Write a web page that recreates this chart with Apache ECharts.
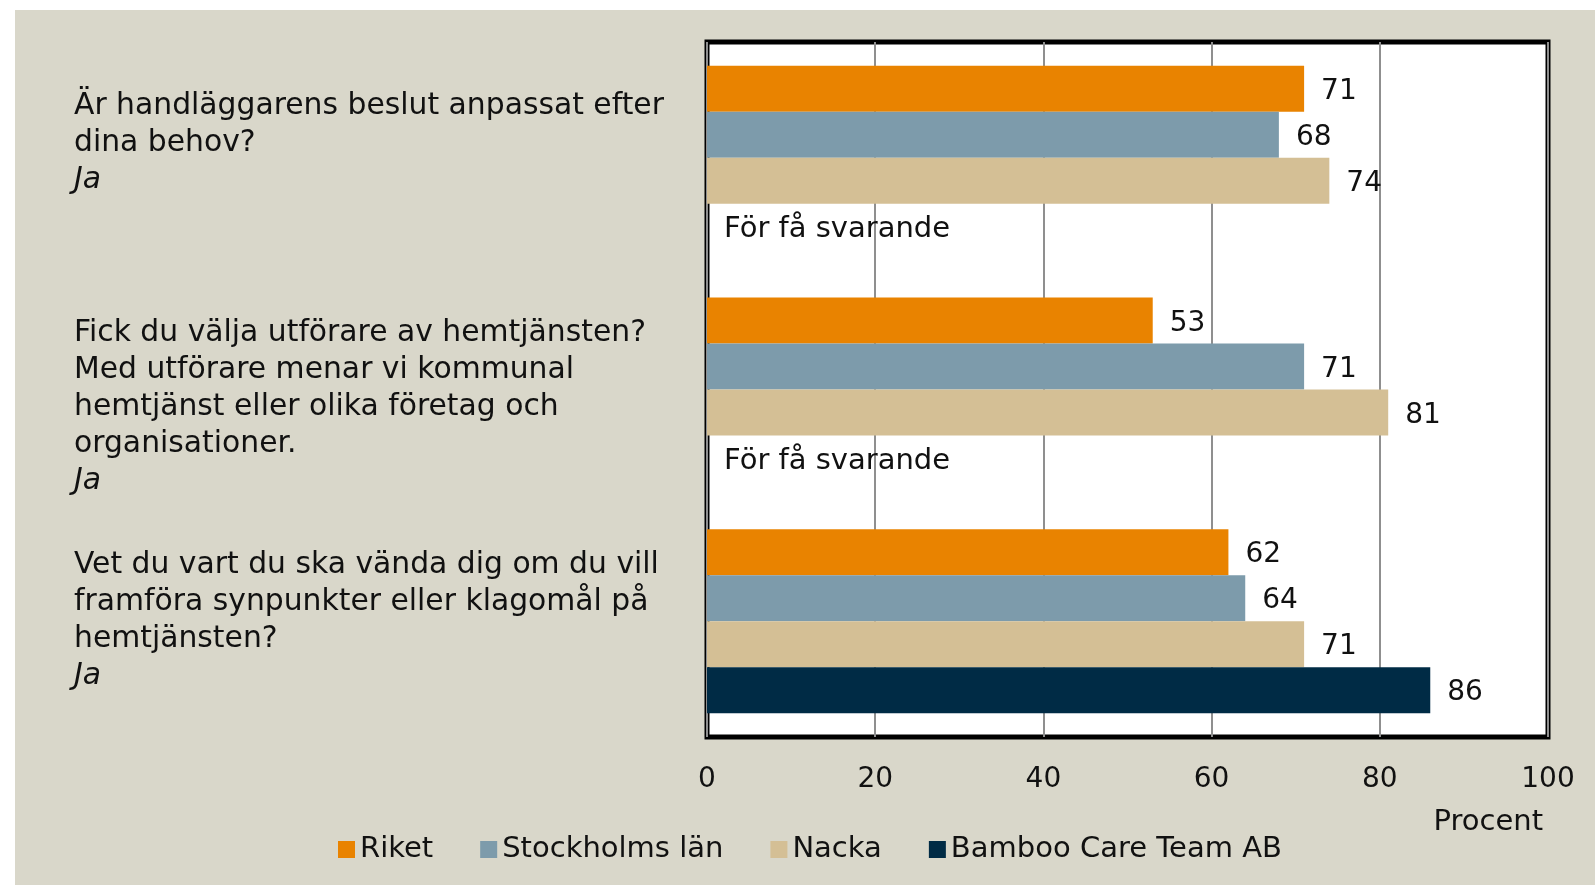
<!DOCTYPE html>
<html>
<head>
<meta charset="utf-8">
<title>Hemtjänst</title>
<script src="https://cdn.jsdelivr.net/npm/echarts@6/dist/echarts.min.js"></script>
<style>
  html, body { margin: 0; padding: 0; background: #fff; }
  #panel { position: absolute; left: 15px; top: 10px; right: 0; bottom: 0; background: #D9D7CA; }
  #main { position: absolute; left: 0; top: 0; width: 1595px; height: 885px; }
</style>
</head>
<body>
<div id="panel"></div>
<div id="main"></div>
<script>
// frågor (radbrytningar som i bilden)
let questions = [
  `Är handläggarens beslut anpassat efter\ndina behov?`,
  `Fick du välja utförare av hemtjänsten?\nMed utförare menar vi kommunal\nhemtjänst eller olika företag och\norganisationer.`,
  `Vet du vart du ska vända dig om du vill\nframföra synpunkter eller klagomål på\nhemtjänsten?`
]
let answer = `Ja`
let seriesNames = [`Riket`, `Stockholms län`, `Nacka`, `Bamboo Care Team AB`]
let riket = [71, 53, 62]
let stockholm = [68, 71, 64]
let nacka = [74, 81, 71]
let bamboo = [null, null, 86]     // null = för få svarande
let tooFew = `För få svarande`
let ticks = [0, 20, 40, 60, 80, 100]
let unit = `Procent`

let colors = ['#E98300', '#7D9BAB', '#D4BF95', '#002B45']
let font = 'DejaVu Sans'
let qWidth = 620      // textblockets bredd, vänsterjusterat
// förskjutning av frågetexten i höjdled
let labelPad = [[0, 0, 30, 0], [36, 0, 0, 0], [0, 0, 0, 0]]

let myChart = echarts.init(document.getElementById('main'))

let makeSeries = (name, values, i) => ({
  type: 'bar',
  name: name,
  barGap: '0%',
  barCategoryGap: '20.6%',
  itemStyle: { color: colors[i] },
  label: {
    show: true,
    position: 'right',
    distance: 17,
    offset: [0, 3],
    color: '#111',
    fontFamily: font,
    fontSize: 28
  },
  data: values.map(v => v == null
    ? { value: 0, label: { formatter: tooFew, fontSize: 29 } }
    : v)
})

let option = {
  animation: false,
  color: colors,
  grid: {
    left: 707,
    right: 47,
    top: 42,
    bottom: 148,
    outerBoundsMode: 'none',
    containLabel: false,
    show: true,
    backgroundColor: '#fff',
    borderColor: '#000',
    borderWidth: 5
  },
  legend: {
    left: 333,
    top: 830,
    icon: 'rect',
    itemWidth: 17,
    itemGap: 47,
    itemHeight: 17,
    textStyle: { fontFamily: font, fontSize: 29, color: '#111' },
    data: seriesNames
  },
  xAxis: {
    type: 'value',
    min: ticks[0],
    max: ticks[ticks.length - 1],
    interval: ticks[1] - ticks[0],
    axisLine: { show: false },
    axisTick: { show: false },
    splitLine: { lineStyle: { color: '#8f8f8f', width: 2 } },
    axisLabel: { margin: 29, color: '#111', fontFamily: font, fontSize: 28 },
    name: '{u|' + unit + '}',
    nameLocation: 'end',
    nameGap: -127,
    nameTextStyle: {
      verticalAlign: 'top',
      padding: [68, 0, 0, 0],
      rich: {
        u: { fontFamily: font, fontSize: 29, lineHeight: 34, color: '#111', width: 122, align: 'right' }
      }
    }
  },
  yAxis: {
    type: 'category',
    inverse: true,
    axisLine: { show: false },
    axisTick: { show: false },
    data: questions.map((q, i) => ({ value: q, textStyle: { padding: labelPad[i] } })),
    axisLabel: {
      margin: 707 - 74 - qWidth,
      formatter: function (value) {
        let lines = value.split('\n').map(l => '{q|' + l + '}')
        return lines.join('\n') + '\n{ja|' + answer + '}'
      },
      rich: {
        q: { fontFamily: font, fontSize: 29.8, lineHeight: 37, color: '#111', width: qWidth, align: 'left' },
        ja: { fontFamily: font, fontSize: 29.8, lineHeight: 37, color: '#111', fontStyle: 'italic', width: qWidth, align: 'left' }
      }
    }
  },
  series: [
    makeSeries(seriesNames[0], riket, 0),
    makeSeries(seriesNames[1], stockholm, 1),
    makeSeries(seriesNames[2], nacka, 2),
    makeSeries(seriesNames[3], bamboo, 3)
  ]
}
myChart.setOption(option)
</script>
</body>
</html>
